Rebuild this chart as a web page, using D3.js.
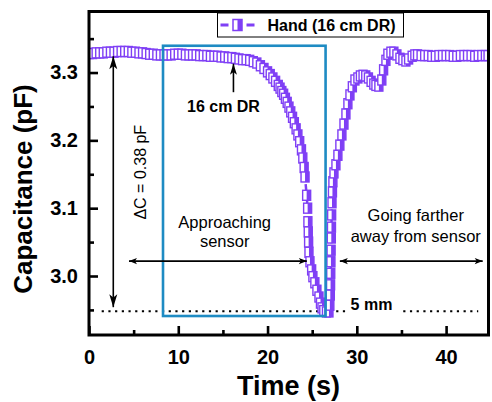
<!DOCTYPE html>
<html>
<head>
<meta charset="utf-8">
<script src="https://cdn.jsdelivr.net/npm/d3@7"></script>
<style>
  body { margin: 0; background: #fff; }
  svg { display: block; font-family: "Liberation Sans", Arial, sans-serif; }
</style>
</head>
<body>
<div id="chart"></div>
<script>
// time (s) and capacitance (pF)
const time = [
  0.0, 0.4, 0.8, 1.2, 1.6, 2.0, 2.4, 2.8, 3.2, 3.6, 4.0, 4.4, 4.8, 5.2, 5.6, 6.0, 6.4, 6.8, 7.2, 7.6,
  8.0, 8.4, 8.8, 9.2, 9.6, 10.0, 10.4, 10.8, 11.2, 11.6, 12.0, 12.4, 12.8, 13.2, 13.6, 14.0, 14.4, 14.8, 15.2, 15.6,
  16.0, 16.4, 16.8, 17.2, 17.6, 18.0, 18.4, 18.8, 19.2, 19.6, 20.0, 20.3, 20.6, 20.9, 21.2, 21.4, 21.6, 21.8, 22.0, 22.2,
  22.4, 22.6, 22.8, 23.0, 23.2, 23.4, 23.6, 23.8, 23.95, 24.1, 24.2, 24.38, 24.49, 24.52, 24.56, 24.6, 24.64, 24.75, 24.94, 25.08,
  25.3, 25.53, 25.76, 25.93, 26.1, 26.3, 26.6, 26.88, 26.98, 27.03, 27.06, 27.08, 27.1, 27.12, 27.14, 27.16, 27.18, 27.22, 27.27, 27.32,
  27.44, 27.66, 27.88, 28.1, 28.33, 28.56, 28.78, 29.0, 29.23, 29.5, 29.79, 30.12, 30.4, 30.7, 31.0, 31.3, 31.6, 31.9, 32.14, 32.47,
  32.8, 33.0, 33.26, 33.48, 33.82, 34.15, 34.49, 34.83, 35.16, 35.5, 35.8, 36.2, 36.5, 36.8, 37.2, 37.6, 38.0, 38.4, 38.8, 39.2,
  39.6, 40.0, 40.4, 40.8, 41.2, 41.6, 42.0, 42.4, 42.8, 43.2, 43.6, 44.0, 44.4, 44.7
];
const capacitance = [
  3.328, 3.328, 3.329, 3.329, 3.329, 3.330, 3.330, 3.330, 3.331, 3.331, 3.331, 3.331, 3.330, 3.330, 3.329, 3.329, 3.328, 3.327, 3.327, 3.326,
  3.326, 3.326, 3.326, 3.326, 3.327, 3.327, 3.327, 3.326, 3.326, 3.326, 3.326, 3.325, 3.325, 3.325, 3.324, 3.324, 3.324, 3.323, 3.323, 3.322,
  3.322, 3.321, 3.320, 3.319, 3.319, 3.318, 3.316, 3.314, 3.310, 3.306, 3.301, 3.297, 3.292, 3.287, 3.281, 3.277, 3.272, 3.268, 3.262, 3.256,
  3.249, 3.242, 3.234, 3.226, 3.217, 3.208, 3.198, 3.186, 3.174, 3.160, 3.146, 3.119, 3.100, 3.080, 3.065, 3.050, 3.035, 3.021, 3.009, 2.999,
  2.990, 2.979, 2.969, 2.960, 2.953, 2.949, 2.947, 2.947, 2.957, 2.972, 2.987, 3.004, 3.021, 3.038, 3.056, 3.072, 3.090, 3.108, 3.124, 3.139,
  3.152, 3.164, 3.178, 3.193, 3.208, 3.224, 3.239, 3.254, 3.267, 3.279, 3.289, 3.292, 3.295, 3.296, 3.295, 3.292, 3.287, 3.283, 3.281, 3.280,
  3.289, 3.304, 3.318, 3.327, 3.330, 3.330, 3.326, 3.321, 3.319, 3.317, 3.320, 3.324, 3.326, 3.326, 3.325, 3.325, 3.325, 3.324, 3.324, 3.325,
  3.325, 3.325, 3.325, 3.324, 3.324, 3.325, 3.325, 3.325, 3.325, 3.324, 3.325, 3.325, 3.325, 3.325
];

const xMajor = [0, 10, 20, 30, 40];
const xMinor = [5, 15, 25, 35];
const yMajor = [3.0, 3.1, 3.2, 3.3];
const yMinor = [2.95, 3.05, 3.15, 3.25, 3.35];

// annotation anchors, in data units
const baseline5mm = 2.948;
const windowBox = { t0: 8.29, t1: 26.5, c0: 2.941, c1: 3.3395 };

const purple = "#7f3ff5";
const blue = "#1e8bc3";
const W = 492, H = 402;
const m = { left: 89, right: 3.5, top: 11.5, bottom: 67 };

const svg = d3.select("#chart").append("svg")
  .attr("width", W)
  .attr("height", H);

const x = d3.scaleLinear().domain([0, 44.75]).range([m.left, W - m.right]);
const y = d3.scaleLinear().domain([2.913, 3.390]).range([H - m.bottom, m.top]);

const data = time.map((t, i) => ({ t: t, c: capacitance[i] }));

svg.append("defs").append("clipPath").attr("id", "plot-clip")
  .append("rect")
  .attr("x", x(0)).attr("y", y(3.390))
  .attr("width", x(44.75) - x(0)).attr("height", y(2.913) - y(3.390));

// dotted 5 mm level
const dots = svg.append("g")
  .attr("stroke", "#000")
  .attr("stroke-width", 2.2)
  .attr("stroke-dasharray", "2.2,4.5");
[[1.42, 28.9], [35.2, 43.6]].forEach(s => {
  dots.append("line")
    .attr("x1", x(s[0])).attr("x2", x(s[1]))
    .attr("y1", y(baseline5mm)).attr("y2", y(baseline5mm));
});

// series
const plot = svg.append("g").attr("clip-path", "url(#plot-clip)");

plot.append("path")
  .datum(data)
  .attr("fill", "none")
  .attr("stroke", purple)
  .attr("stroke-width", 2.5)
  .attr("stroke-dasharray", "8,3,2,3")
  .attr("d", d3.line().x(d => x(d.t)).y(d => y(d.c)));

const mw = 8, mh = 10;
const marks = plot.append("g").selectAll("g")
  .data(data)
  .enter().append("g")
  .attr("transform", d => `translate(${x(d.t)},${y(d.c)})`);
marks.append("rect")
  .attr("x", -mw / 2).attr("y", -mh / 2)
  .attr("width", mw).attr("height", mh)
  .attr("fill", "#fff")
  .attr("stroke", purple)
  .attr("stroke-width", 1.4);
marks.append("rect")
  .attr("x", 0).attr("y", -mh / 2)
  .attr("width", mw / 2).attr("height", mh)
  .attr("fill", purple);

// blue window
svg.append("rect")
  .attr("x", x(windowBox.t0))
  .attr("y", y(windowBox.c1))
  .attr("width", x(windowBox.t1) - x(windowBox.t0))
  .attr("height", y(windowBox.c0) - y(windowBox.c1))
  .attr("fill", "none")
  .attr("stroke", blue)
  .attr("stroke-width", 2.6);

// arrows
function arrow(x1, y1, x2, y2, len, half, both) {
  const g = svg.append("g");
  g.append("line")
    .attr("x1", x1).attr("y1", y1).attr("x2", x2).attr("y2", y2)
    .attr("stroke", "#000").attr("stroke-width", 1.6);
  const head = (tx, ty, fx, fy) => {
    const a = Math.atan2(ty - fy, tx - fx);
    const bx = tx - len * Math.cos(a), by = ty - len * Math.sin(a);
    const px = -Math.sin(a) * half, py = Math.cos(a) * half;
    g.append("path")
      .attr("d", `M${tx},${ty}L${bx + px},${by + py}L${bx + len * 0.25 * Math.cos(a)},${by + len * 0.25 * Math.sin(a)}L${bx - px},${by - py}Z`)
      .attr("fill", "#000");
  };
  head(x2, y2, x1, y1);
  if (both) head(x1, y1, x2, y2);
}
arrow(x(2.72), y(2.954), x(2.72), y(3.324), 13, 4, true);
arrow(x(16.18), y(3.271), x(16.18), y(3.313), 11, 3.5, false);
arrow(x(4.48), y(3.022), x(24.4), y(3.022), 8, 3.2, true);
arrow(x(28.1), y(3.022), x(44.1), y(3.022), 8, 3.2, true);

// annotation text
const note = svg.append("g").attr("fill", "#000");
note.append("text")
  .attr("x", x(15.06)).attr("y", y(3.242))
  .attr("text-anchor", "middle")
  .attr("font-size", 16).attr("font-weight", "bold")
  .text("16 cm DR");
note.append("text")
  .attr("x", x(15.2)).attr("y", y(3.071))
  .attr("text-anchor", "middle").attr("font-size", 16.5)
  .text("Approaching");
note.append("text")
  .attr("x", x(15.2)).attr("y", y(3.043))
  .attr("text-anchor", "middle").attr("font-size", 16.5)
  .text("sensor");
note.append("text")
  .attr("x", x(36.6)).attr("y", y(3.081))
  .attr("text-anchor", "middle").attr("font-size", 16.5)
  .text("Going farther");
note.append("text")
  .attr("x", x(36.6)).attr("y", y(3.050))
  .attr("text-anchor", "middle").attr("font-size", 16.5)
  .text("away from sensor");
note.append("text")
  .attr("x", x(29.3)).attr("y", y(2.950))
  .attr("font-size", 16).attr("font-weight", "bold")
  .text("5 mm");
note.append("text")
  .attr("transform", `translate(${x(6.44)},${y(3.153)}) rotate(-90)`)
  .attr("text-anchor", "middle").attr("font-size", 16)
  .text("\u0394C = 0.38 pF");

// axes, ticks inward
const axes = svg.append("g").attr("font-weight", "bold");
const xAxis = axes.append("g")
  .attr("transform", `translate(0,${y(2.913)})`)
  .call(d3.axisBottom(x).tickValues(xMajor).tickSize(-9).tickPadding(15).tickFormat(d3.format("d")));
axes.append("g")
  .attr("transform", `translate(0,${y(2.913)})`)
  .call(d3.axisBottom(x).tickValues(xMinor).tickSize(-5).tickFormat(""));
const yAxis = axes.append("g")
  .attr("transform", `translate(${x(0)},0)`)
  .call(d3.axisLeft(y).tickValues(yMajor).tickSize(-9).tickPadding(11).tickFormat(d3.format(".1f")));
axes.append("g")
  .attr("transform", `translate(${x(0)},0)`)
  .call(d3.axisLeft(y).tickValues(yMinor).tickSize(-5).tickFormat(""));
axes.selectAll(".domain").remove();
axes.selectAll(".tick line").attr("stroke", "#000").attr("stroke-width", 2.6);
axes.selectAll(".tick text")
  .attr("fill", "#000")
  .attr("font-size", 20)
  .attr("font-family", "'Liberation Sans', Arial, sans-serif");

// frame
svg.append("rect")
  .attr("x", x(0)).attr("y", y(3.390))
  .attr("width", x(44.75) - x(0)).attr("height", y(2.913) - y(3.390))
  .attr("fill", "none")
  .attr("stroke", "#000")
  .attr("stroke-width", 3);

// axis titles
svg.append("text")
  .attr("x", 288.5).attr("y", 395)
  .attr("text-anchor", "middle")
  .attr("font-size", 27).attr("font-weight", "bold")
  .text("Time (s)");
svg.append("text")
  .attr("transform", "translate(32,189) rotate(-90)")
  .attr("text-anchor", "middle")
  .attr("font-size", 26).attr("font-weight", "bold")
  .text("Capacitance (pF)");

// legend
const lg = svg.append("g").attr("transform", "translate(217.5,13)");
lg.append("rect")
  .attr("width", 186).attr("height", 24)
  .attr("fill", "#fff").attr("stroke", "#000").attr("stroke-width", 1);
lg.append("line")
  .attr("x1", 3).attr("x2", 37).attr("y1", 12).attr("y2", 12)
  .attr("stroke", purple).attr("stroke-width", 3)
  .attr("stroke-dasharray", "8,18,8");
lg.append("rect")
  .attr("x", 15.5).attr("y", 6.5).attr("width", 9).attr("height", 11)
  .attr("fill", "#fff").attr("stroke", purple).attr("stroke-width", 1.5);
lg.append("rect")
  .attr("x", 20).attr("y", 6.5).attr("width", 4.5).attr("height", 11)
  .attr("fill", purple);
lg.append("text")
  .attr("x", 50).attr("y", 18)
  .attr("font-size", 16).attr("font-weight", "bold")
  .text("Hand (16 cm DR)");
</script>
</body>
</html>
